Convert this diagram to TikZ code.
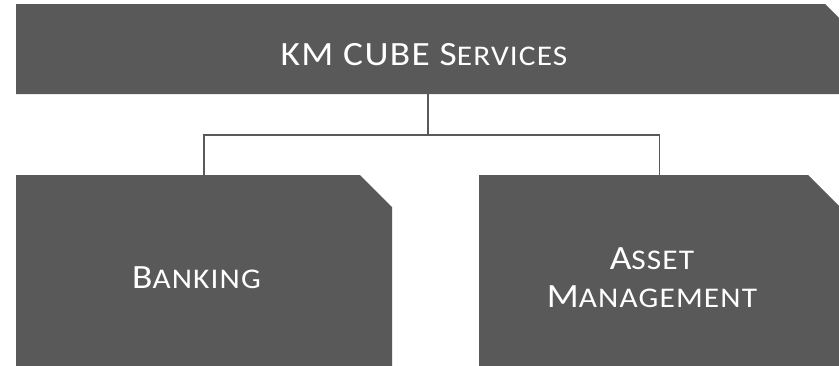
\documentclass[tikz,border=0pt]{standalone}
\usepackage{fontspec}
\setmainfont{Carlito}[FakeStretch=1.1, LetterSpace=4]
\definecolor{boxgray}{HTML}{595959}
\newcommand{\BC}[1]{{\fontsize{34}{38}\selectfont #1}}
\tikzset{
  box/.style={fill=boxgray},
  conn/.style={draw=boxgray, line width=1.5pt},
  lbl/.style={text=white, font=\fontsize{28.5}{38}\selectfont, inner sep=0pt}
}
\begin{document}
\begin{tikzpicture}[x=1pt,y=-1pt]
\useasboundingbox (0,0) rectangle (839,365);
% boxes
\fill[box] (16,4) -- (825,4) -- (857,36) -- (857,94) -- (16,94) -- cycle;
\fill[box] (16,175) -- (360,175) -- (392,207) -- (392,370) -- (16,370) -- cycle;
\fill[box] (479,175) -- (808,175) -- (840,207) -- (840,370) -- (479,370) -- cycle;
% connector points
\coordinate (topS) at (428,94);
\coordinate (hub) at (428,135);
\coordinate (leftN) at (204,175);
\coordinate (rightN) at (659.5,175);
\draw[conn] (topS) -- (hub);
\draw[conn] (leftN) |- (hub) -| (rightN);
% labels
\node[lbl, anchor=base] (ttl) at (424,65) {\BC{KM CUBE S}ERVICES};
\node[lbl, anchor=base] (bank) at (196.5,288) {\BC{B}ANKING};
\node[lbl, align=center] (asset) at (652,277.5) {\BC{A}SSET\\\BC{M}ANAGEMENT};
\end{tikzpicture}
\end{document}
